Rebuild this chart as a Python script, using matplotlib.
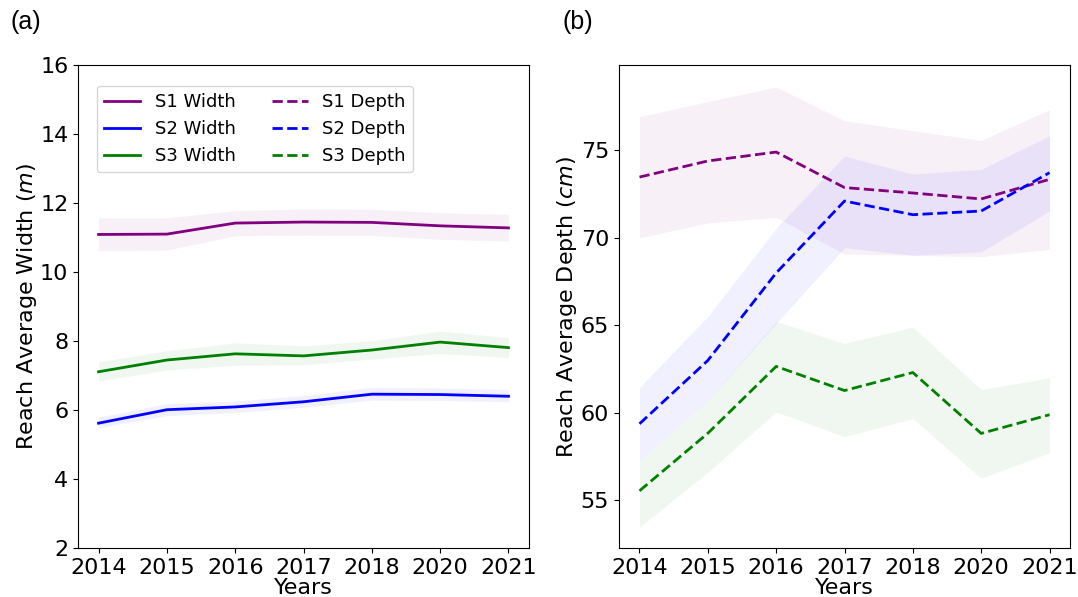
import matplotlib
matplotlib.use("Agg")
import matplotlib.pyplot as plt
import numpy as np

years = ["2014", "2015", "2016", "2017", "2018", "2020", "2021"]

# Reach-average width (m): mean and band limits
s1_width = [11.09, 11.10, 11.42, 11.45, 11.44, 11.34, 11.28]
s1_width_lo = [10.62, 10.64, 11.05, 11.07, 11.06, 10.95, 10.90]
s1_width_hi = [11.57, 11.57, 11.78, 11.83, 11.82, 11.72, 11.67]

s2_width = [5.62, 6.01, 6.09, 6.24, 6.46, 6.45, 6.40]
s2_width_lo = [5.49, 5.84, 5.93, 6.08, 6.29, 6.28, 6.24]
s2_width_hi = [5.79, 6.19, 6.26, 6.42, 6.66, 6.64, 6.60]

s3_width = [7.11, 7.45, 7.63, 7.57, 7.74, 7.97, 7.81]
s3_width_lo = [6.84, 7.16, 7.30, 7.31, 7.48, 7.64, 7.52]
s3_width_hi = [7.40, 7.72, 7.95, 7.86, 8.01, 8.29, 8.10]

# Reach-average depth (cm): mean and band limits
s1_depth = [73.47, 74.39, 74.90, 72.87, 72.56, 72.22, 73.34]
s1_depth_lo = [70.00, 70.85, 71.17, 69.07, 69.00, 68.92, 69.34]
s1_depth_hi = [76.92, 77.78, 78.62, 76.69, 76.12, 75.57, 77.32]

s2_depth = [59.37, 62.99, 67.99, 72.10, 71.32, 71.53, 73.72]
s2_depth_lo = [57.27, 60.70, 65.11, 69.43, 69.00, 69.20, 71.53]
s2_depth_hi = [61.45, 65.50, 70.54, 74.67, 73.64, 73.91, 75.83]

s3_depth = [55.54, 58.83, 62.65, 61.27, 62.30, 58.82, 59.89]
s3_depth_lo = [53.46, 56.60, 60.05, 58.63, 59.67, 56.26, 57.71]
s3_depth_hi = [57.27, 60.70, 65.22, 63.96, 64.90, 61.33, 62.00]

colors = ["purple", "blue", "green"]
band_alpha = 0.06

fig = plt.figure(figsize=(10.78, 5.97), dpi=100)
ax1 = fig.add_axes([0.0724, 0.082, 0.4183, 0.809])
ax2 = fig.add_axes([0.5742, 0.082, 0.4184, 0.809])

x = np.arange(len(years))

width_sets = [
    ("S1 Width", s1_width, s1_width_lo, s1_width_hi),
    ("S2 Width", s2_width, s2_width_lo, s2_width_hi),
    ("S3 Width", s3_width, s3_width_lo, s3_width_hi),
]
depth_sets = [
    ("S1 Depth", s1_depth, s1_depth_lo, s1_depth_hi),
    ("S2 Depth", s2_depth, s2_depth_lo, s2_depth_hi),
    ("S3 Depth", s3_depth, s3_depth_lo, s3_depth_hi),
]

handles = []
for (label, m, lo, hi), c in zip(width_sets, colors):
    ax1.fill_between(x, lo, hi, color=c, alpha=band_alpha, linewidth=0)
    h, = ax1.plot(x, m, color=c, lw=2, label=label)
    handles.append(h)

for (label, m, lo, hi), c in zip(depth_sets, colors):
    ax2.fill_between(x, lo, hi, color=c, alpha=band_alpha, linewidth=0)
    h, = ax2.plot(x, m, color=c, lw=2, ls="--", label=label)
    handles.append(h)

for ax in (ax1, ax2):
    ax.set_xticks(x)
    ax.set_xticklabels(years)
    ax.tick_params(labelsize=16)
    ax.set_xlabel("Years", fontsize=16, labelpad=0)

ax1.set_ylim(2, 16)
ax1.set_yticks(np.arange(2, 17, 2))
ax1.set_ylabel("Reach Average Width ($m$)", fontsize=16, labelpad=1)

ax2.set_ylim(52.27, 79.87)
ax2.set_yticks([55, 60, 65, 70, 75])
ax2.set_ylabel("Reach Average Depth ($cm$)", fontsize=16, labelpad=1)

ax1.legend(handles=handles, ncol=2, loc="upper left", fontsize=13,
           bbox_to_anchor=(0.0415, 0.957), borderaxespad=0.0,
           columnspacing=2.0)

fig.text(0.0237, 0.963, "(a)", fontsize=18, ha="center", va="center",
         family="Liberation Sans")
fig.text(0.5357, 0.963, "(b)", fontsize=18, ha="center", va="center",
         family="Liberation Sans")

fig.savefig("out.png", dpi=100)
